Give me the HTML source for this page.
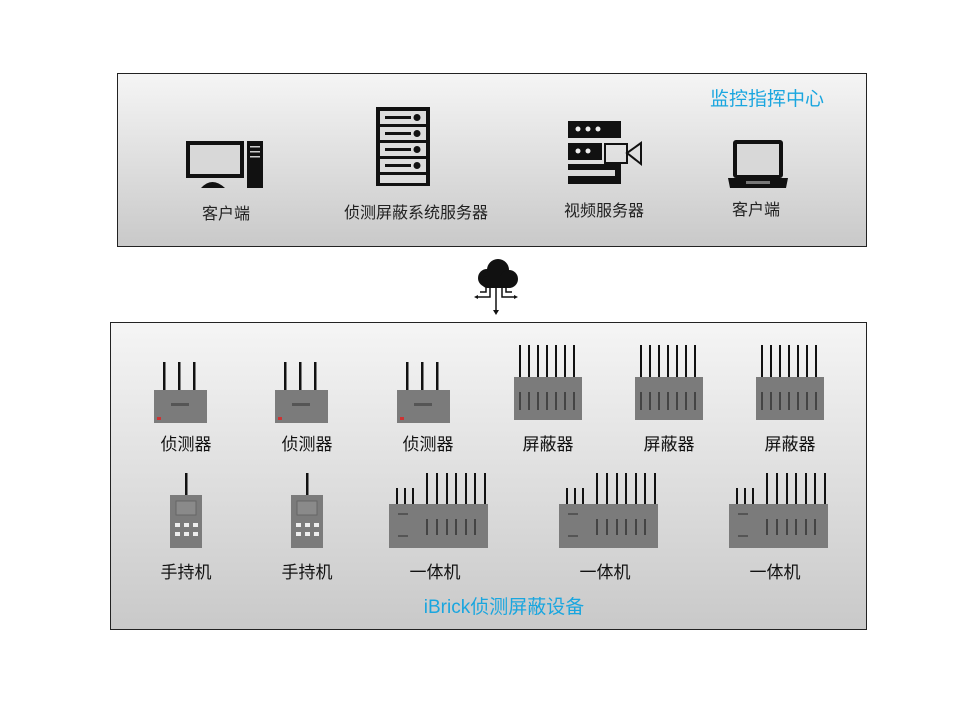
<!DOCTYPE html>
<html><head><meta charset="utf-8"><style>
html,body{margin:0;padding:0;background:#fff;}
svg{display:block;}
text{font-family:"Liberation Sans","Noto Sans CJK SC",sans-serif;}
</style></head><body>
<svg width="960" height="720" viewBox="0 0 960 720" xmlns="http://www.w3.org/2000/svg">
<defs>
<linearGradient id="g" x1="0" y1="0" x2="0" y2="1">
<stop offset="0" stop-color="#f5f5f5"/><stop offset="1" stop-color="#c9c9c9"/>
</linearGradient>
<g id="det">
<rect x="-27" y="0" width="53" height="33" fill="#7b7b7b"/>
<rect x="-18" y="-28" width="2.5" height="28" fill="#111"/>
<rect x="-3" y="-28" width="2.5" height="28" fill="#111"/>
<rect x="12" y="-28" width="2.5" height="28" fill="#111"/>
<rect x="-10" y="13" width="18" height="3" fill="#555"/>
<rect x="-24" y="27" width="4" height="3" fill="#c33"/>
</g>
<g id="jam">
<rect x="-34" y="0" width="68" height="43" fill="#7b7b7b"/>
<g fill="#111">
<rect x="-29" y="-32" width="2" height="32"/><rect x="-20" y="-32" width="2" height="32"/><rect x="-11" y="-32" width="2" height="32"/><rect x="-2" y="-32" width="2" height="32"/><rect x="7" y="-32" width="2" height="32"/><rect x="16" y="-32" width="2" height="32"/><rect x="25" y="-32" width="2" height="32"/>
</g>
<g fill="#444">
<rect x="-29" y="15" width="2" height="18"/><rect x="-20" y="15" width="2" height="18"/><rect x="-11" y="15" width="2" height="18"/><rect x="-2" y="15" width="2" height="18"/><rect x="7" y="15" width="2" height="18"/><rect x="16" y="15" width="2" height="18"/><rect x="25" y="15" width="2" height="18"/>
</g>
</g>
<g id="hand">
<rect x="-16" y="0" width="32" height="53" fill="#7b7b7b"/>
<rect x="-1" y="-22" width="2.5" height="22" fill="#111"/>
<rect x="-10" y="6" width="20" height="14" fill="#8a8a8a" stroke="#666"/>
<g fill="#eee"><rect x="-11" y="28" width="5" height="4"/><rect x="-2" y="28" width="5" height="4"/><rect x="7" y="28" width="5" height="4"/><rect x="-11" y="37" width="5" height="4"/><rect x="-2" y="37" width="5" height="4"/><rect x="7" y="37" width="5" height="4"/></g>
</g>
<g id="aio">
<rect x="-49" y="0" width="99" height="44" fill="#7b7b7b"/>
<g fill="#111">
<rect x="-42" y="-16" width="2" height="16"/><rect x="-34" y="-16" width="2" height="16"/><rect x="-26" y="-16" width="2" height="16"/>
<rect x="-12" y="-31" width="2" height="31"/><rect x="-2" y="-31" width="2" height="31"/><rect x="8" y="-31" width="2" height="31"/><rect x="17" y="-31" width="2" height="31"/><rect x="27" y="-31" width="2" height="31"/><rect x="36" y="-31" width="2" height="31"/><rect x="46" y="-31" width="2" height="31"/>
</g>
<g fill="#444"><rect x="-12" y="15" width="2" height="16"/><rect x="-2" y="15" width="2" height="16"/><rect x="8" y="15" width="2" height="16"/><rect x="17" y="15" width="2" height="16"/><rect x="27" y="15" width="2" height="16"/><rect x="36" y="15" width="2" height="16"/></g>
<rect x="-40" y="9" width="10" height="2" fill="#555"/><rect x="-40" y="31" width="10" height="2" fill="#555"/>
</g>
</defs>

<!-- top box -->
<rect x="117.5" y="73.5" width="749" height="173" fill="url(#g)" stroke="#222" stroke-width="1"/>
<text x="767" y="105" font-size="19" fill="#1aa6df" text-anchor="middle">监控指挥中心</text>

<!-- monitor -->
<rect x="186" y="141" width="58" height="37" fill="#111"/>
<rect x="190" y="145" width="50" height="29" fill="#d8d8d8"/>
<path d="M201 188 Q212 176 225 188 Z" fill="#111"/>
<rect x="247" y="141" width="16" height="47" fill="#111"/>
<rect x="250" y="146" width="10" height="1.5" fill="#ccc"/><rect x="250" y="151" width="10" height="1.5" fill="#ccc"/><rect x="250" y="156" width="10" height="1.5" fill="#ccc"/>
<text x="226" y="219" font-size="16" fill="#222" text-anchor="middle">客户端</text>

<!-- server rack -->
<rect x="376" y="107" width="54" height="79" fill="#111"/>
<g fill="#dcdcdc">
<rect x="380" y="111" width="46" height="13"/><rect x="380" y="127" width="46" height="13"/><rect x="380" y="143" width="46" height="13"/><rect x="380" y="159" width="46" height="13"/><rect x="380" y="175" width="46" height="8"/>
</g>
<g fill="#111"><rect x="385" y="116" width="26" height="3"/><rect x="385" y="132" width="26" height="3"/><rect x="385" y="148" width="26" height="3"/><rect x="385" y="164" width="26" height="3"/>
<circle cx="417" cy="117.5" r="3.5"/><circle cx="417" cy="133.5" r="3.5"/><circle cx="417" cy="149.5" r="3.5"/><circle cx="417" cy="165.5" r="3.5"/></g>
<text x="416" y="218" font-size="16" fill="#222" text-anchor="middle">侦测屏蔽系统服务器</text>

<!-- video server -->
<rect x="568" y="121" width="53" height="17" fill="#111"/>
<rect x="568" y="143" width="34" height="17" fill="#111"/>
<path d="M568 164 H621 V184 H568 V176 H615 V170 H568 Z" fill="#111"/>
<g fill="#eee"><circle cx="578" cy="129" r="2.5"/><circle cx="588" cy="129" r="2.5"/><circle cx="598" cy="129" r="2.5"/><circle cx="578" cy="151" r="2.5"/><circle cx="588" cy="151" r="2.5"/></g>
<rect x="605" y="144" width="22" height="19" fill="none" stroke="#111" stroke-width="2"/>
<path d="M627 153 L641 143 V164 Z" fill="none" stroke="#111" stroke-width="2"/>
<text x="604" y="216" font-size="16" fill="#222" text-anchor="middle">视频服务器</text>

<!-- laptop -->
<rect x="733" y="140" width="50" height="38" rx="3" fill="#111"/>
<rect x="737" y="144" width="42" height="31" fill="#d8d8d8"/>
<path d="M728 178 H788 L786 188 H730 Z" fill="#111"/>
<rect x="746" y="181" width="24" height="3" fill="#777"/>
<text x="756" y="215" font-size="16" fill="#222" text-anchor="middle">客户端</text>

<!-- cloud -->
<g fill="#111">
<circle cx="487" cy="278" r="9"/><circle cx="498" cy="270" r="11"/><circle cx="509" cy="279" r="9"/>
<rect x="482" y="276" width="32" height="12" rx="5"/>
</g>
<g stroke="#111" stroke-width="1.5" fill="none">
<path d="M496 286 V312"/><path d="M490 286 V297 H476"/><path d="M502 286 V297 H516"/><path d="M486 286 V292 H480"/><path d="M506 286 V292 H512"/>
</g>
<path d="M493 310 L496 315 L499 310 Z" fill="#111"/>
<path d="M478 295 L474 297 L478 299 Z" fill="#111"/><path d="M514 295 L518 297 L514 299 Z" fill="#111"/>

<!-- bottom box -->
<rect x="110.5" y="322.5" width="756" height="307" fill="url(#g)" stroke="#222" stroke-width="1"/>

<use href="#det" x="181" y="390"/><use href="#det" x="302" y="390"/><use href="#det" x="424" y="390"/>
<use href="#jam" x="548" y="377"/><use href="#jam" x="669" y="377"/><use href="#jam" x="790" y="377"/>
<use href="#hand" x="186" y="495"/><use href="#hand" x="307" y="495"/>
<use href="#aio" x="438" y="504"/><use href="#aio" x="608" y="504"/><use href="#aio" x="778" y="504"/>

<g font-size="17" fill="#111" text-anchor="middle">
<text x="186" y="450">侦测器</text><text x="307" y="450">侦测器</text><text x="428" y="450">侦测器</text>
<text x="548" y="450">屏蔽器</text><text x="669" y="450">屏蔽器</text><text x="790" y="450">屏蔽器</text>
<text x="186" y="578">手持机</text><text x="307" y="578">手持机</text>
<text x="435" y="578">一体机</text><text x="605" y="578">一体机</text><text x="775" y="578">一体机</text>
</g>
<text x="504" y="613" font-size="19" fill="#1aa6df" text-anchor="middle">iBrick侦测屏蔽设备</text>
</svg>
</body></html>
